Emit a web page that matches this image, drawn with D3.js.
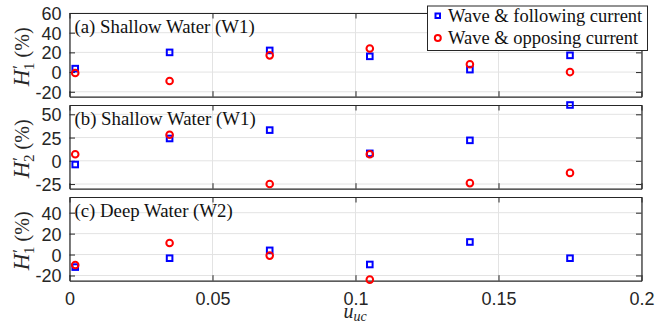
<!DOCTYPE html>
<html>
<head>
<meta charset="utf-8">
<script src="https://cdn.jsdelivr.net/npm/d3@7"></script>
<style>
  body { margin: 0; background: #fff; }
  .tick text { font-family: "Liberation Sans", Arial, sans-serif; }
</style>
</head>
<body>
<div id="chart"></div>
<script>
// x positions (u_uc) shared by all panels
var uuc = [0.002, 0.035, 0.07, 0.105, 0.14, 0.175];
var xTicks = [0, 0.05, 0.1, 0.15, 0.2];

// (a) shallow water W1, H1'
var followA = [3.5, 20, 22, 16, 2.5, 17];
var opposeA = [-1, -9, 17, 24, 8, 0];
var ticksA = [-20, 0, 20, 40, 60];

// (b) shallow water W1, H2'
var followB = [-4, 24, 33, 8, 22, 60];
var opposeB = [7, 28, -25, 7, -24, -13];
var ticksB = [-25, 0, 25, 50];

// (c) deep water W2, H1'
var followC = [-12, -3.5, 4, -9.5, 12, -3.5];
var opposeC = [-10, 11, -1, -24];
var ticksC = [-20, 0, 20, 40];

var legendLabels = ["Wave & following current", "Wave & opposing current"];

var panels = [
  {label: "(a) Shallow Water (W1)", sub: "1", domain: [-25, 60], ticks: ticksA, follow: followA, oppose: opposeA, top: 13},
  {label: "(b) Shallow Water (W1)", sub: "2", domain: [-30, 60], ticks: ticksB, follow: followB, oppose: opposeB, top: 105},
  {label: "(c) Deep Water (W2)", sub: "1", domain: [-25, 55], ticks: ticksC, follow: followC, oppose: opposeC, top: 197}
];

var width = 657, height = 326;
var left = 69.5, right = 641.5, panelH = 83.7;
var axisColor = "#262626", gridColor = "#e3e3e3";
var serif = "'Liberation Serif', 'Times New Roman', serif";

var svg = d3.select("#chart").append("svg")
    .attr("width", width)
    .attr("height", height);

var xScale = d3.scaleLinear().domain([0, 0.2]).range([left, right]);

panels.forEach(function(p, pi) {
    var yScale = d3.scaleLinear().domain(p.domain).range([p.top + panelH, p.top]);
    var g = svg.append("g");

    g.append("rect")
        .attr("x", left).attr("y", p.top)
        .attr("width", right - left).attr("height", panelH)
        .attr("fill", "#fff");

    // grid
    g.selectAll(".gx").data(xTicks).enter().append("line")
        .attr("x1", function(d) { return xScale(d); })
        .attr("x2", function(d) { return xScale(d); })
        .attr("y1", p.top).attr("y2", p.top + panelH)
        .attr("stroke", gridColor);
    g.selectAll(".gy").data(p.ticks).enter().append("line")
        .attr("x1", left).attr("x2", right)
        .attr("y1", function(d) { return yScale(d); })
        .attr("y2", function(d) { return yScale(d); })
        .attr("stroke", gridColor);

    // axes, ticks pointing in, box on
    var yl = g.append("g")
        .attr("transform", "translate(" + left + ",0)")
        .call(d3.axisLeft(yScale).tickValues(p.ticks).tickSizeInner(-5.5).tickSizeOuter(0).tickPadding(10));
    var yr = g.append("g")
        .attr("transform", "translate(" + right + ",0)")
        .call(d3.axisRight(yScale).tickValues(p.ticks).tickSizeInner(-5.5).tickSizeOuter(0).tickFormat(""));
    var xb = g.append("g")
        .attr("transform", "translate(0," + (p.top + panelH) + ")")
        .call(d3.axisBottom(xScale).tickValues(xTicks).tickSizeInner(-5.5).tickSizeOuter(0).tickPadding(12)
            .tickFormat(pi == 2 ? function(d) { return d; } : ""));
    var xt = g.append("g")
        .attr("transform", "translate(0," + p.top + ")")
        .call(d3.axisTop(xScale).tickValues(xTicks).tickSizeInner(-5.5).tickSizeOuter(0).tickFormat(""));

    [yl, yr, xb, xt].forEach(function(a) {
        a.select(".domain").attr("stroke", axisColor).attr("stroke-width", 1.2);
        a.selectAll(".tick line").attr("stroke", axisColor);
        a.selectAll(".tick text").attr("fill", "#262626").style("font-size", "18px");
    });
    yl.selectAll(".tick text").attr("dx", "2px").attr("dy", "0.36em").text(function(d) { return d < 0 ? "-" + (-d) : d; });

    // panel label
    g.append("text")
        .attr("x", left + 5).attr("y", p.top + 19.5)
        .attr("font-family", serif)
        .attr("font-size", "18.8px")
        .attr("fill", "#111")
        .text(p.label);

    // y label H'_n (%)
    var yt = g.append("text")
        .attr("transform", "translate(29," + (p.top + panelH / 2 + 2) + ") rotate(-90)")
        .attr("text-anchor", "middle")
        .attr("font-family", serif)
        .attr("font-size", "20px")
        .attr("fill", "#262626");
    yt.append("tspan").attr("font-style", "italic").attr("font-size", "23px").text("H");
    yt.append("tspan").attr("dy", -5).attr("dx", 1).attr("font-size", "17px").text("\u2032");
    yt.append("tspan").attr("dy", 10).attr("dx", -5).attr("font-size", "15px").text(p.sub);
    yt.append("tspan").attr("dy", -5).text(" (%)");

    // markers
    g.selectAll(".sq").data(p.follow).enter().append("rect")
        .attr("x", function(d, i) { return xScale(uuc[i]) - 2.8; })
        .attr("y", function(d) { return yScale(d) - 2.8; })
        .attr("width", 5.6).attr("height", 5.6)
        .attr("fill", "none").attr("stroke", "#0000ff").attr("stroke-width", 2);
    g.selectAll(".ci").data(p.oppose).enter().append("circle")
        .attr("cx", function(d, i) { return xScale(uuc[i]); })
        .attr("cy", function(d) { return yScale(d); })
        .attr("r", 3.3)
        .attr("fill", "none").attr("stroke", "#ff0000").attr("stroke-width", 2);
});

// x label
var xlab = svg.append("text")
    .attr("x", 355).attr("y", 318)
    .attr("text-anchor", "middle")
    .attr("font-family", serif)
    .attr("font-size", "20px")
    .attr("fill", "#262626");
xlab.append("tspan").attr("font-style", "italic").text("u");
xlab.append("tspan").attr("font-style", "italic").attr("dy", 3).attr("font-size", "14px").text("uc");

// legend
var lg = svg.append("g");
lg.append("rect")
    .attr("x", 427.5).attr("y", 6)
    .attr("width", 220).attr("height", 44.5)
    .attr("fill", "#fff").attr("stroke", axisColor).attr("stroke-width", 1);
lg.append("rect")
    .attr("x", 435.5).attr("y", 13.5).attr("width", 4.5).attr("height", 4.5)
    .attr("fill", "none").attr("stroke", "#0000ff").attr("stroke-width", 2);
lg.append("circle")
    .attr("cx", 437.8).attr("cy", 38).attr("r", 3)
    .attr("fill", "none").attr("stroke", "#ff0000").attr("stroke-width", 2);
lg.selectAll(".lt").data(legendLabels).enter().append("text")
    .attr("x", 448)
    .attr("y", function(d, i) { return 21.5 + i * 22; })
    .attr("font-family", serif)
    .attr("font-size", "18.5px")
    .attr("fill", "#111")
    .text(function(d) { return d; });
</script>
</body>
</html>
